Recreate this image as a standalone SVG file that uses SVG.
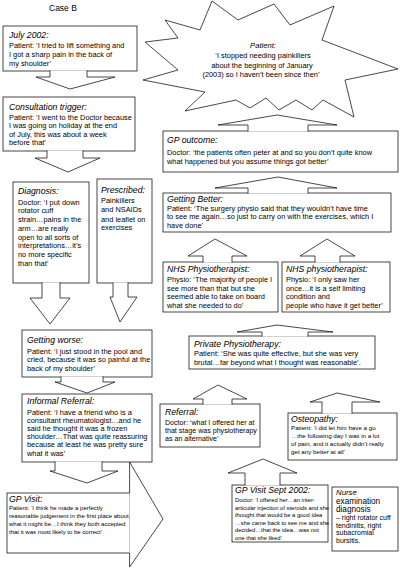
<svg xmlns="http://www.w3.org/2000/svg" width="400" height="568" viewBox="0 0 400 568">
<style>
.box{fill:#fff;stroke:#1a1a1a;stroke-width:0.8}
.arr{fill:#fff;stroke:#1a1a1a;stroke-width:0.8;stroke-linejoin:miter}
text{font-family:"Liberation Sans",Arial,sans-serif;fill:#000}
.t{font-style:italic;font-size:8.7px}
.b{font-size:7.4px}
.c{text-anchor:middle}
</style>
<rect width="400" height="568" fill="#fff"/>
<text x="49" y="11" font-size="8.5">Case B</text>

<g id="n-july">
<rect class="box" x="3" y="26" width="134" height="45"/>
<text class="t" x="9" y="38">July 2002:</text>
<text class="b" x="9" y="47.5">Patient: ‘I tried to lift something and</text>
<text class="b" x="9" y="57">I got a sharp pain in the back of</text>
<text class="b" x="9" y="66">my shoulder’</text>
</g>

<g id="n-consult">
<rect class="box" x="3" y="97" width="132" height="54"/>
<text class="t" x="9" y="110">Consultation trigger:</text>
<text class="b" x="9" y="120">Patient: ‘I went to the Doctor because</text>
<text class="b" x="9" y="128.3">I was going on holiday at the end</text>
<text class="b" x="9" y="136.6">of July, this was about a week</text>
<text class="b" x="9" y="145">before that’</text>
</g>

<g id="n-diagnosis">
<rect class="box" x="13" y="182" width="76" height="101"/>
<text class="t" x="18" y="194">Diagnosis:</text>
<text class="b" x="18" y="204.7">Doctor: ‘I put down</text>
<text class="b" x="18" y="213.4">rotator cuff</text>
<text class="b" x="18" y="222.1">strain…pains in the</text>
<text class="b" x="18" y="230.8">arm…are really</text>
<text class="b" x="18" y="239.5">open to all sorts of</text>
<text class="b" x="18" y="248.2">interpretations…it’s</text>
<text class="b" x="18" y="256.9">no more specific</text>
<text class="b" x="18" y="265.6">than that’</text>
</g>

<g id="n-prescribed">
<rect class="box" x="97" y="179" width="55" height="104"/>
<text class="t" x="101" y="192.5">Prescribed:</text>
<text class="b" x="101" y="202.7">Painkillers</text>
<text class="b" x="101" y="212.2">and NSAIDs</text>
<text class="b" x="101" y="221.7">and leaflet on</text>
<text class="b" x="101" y="230">exercises</text>
</g>

<g id="n-worse">
<rect class="box" x="22" y="330" width="130" height="47"/>
<text class="t" x="27" y="343">Getting worse:</text>
<text class="b" x="27" y="353.5">Patient: ‘I just stood in the pool and</text>
<text class="b" x="27" y="362">cried, because it was so painful at the</text>
<text class="b" x="27" y="370.5">back of my shoulder’</text>
</g>

<g id="n-informal">
<rect class="box" x="22" y="394" width="130" height="68"/>
<text class="t" x="27" y="404">Informal Referral:</text>
<text class="b" x="27" y="414.5">Patient: ‘I have a friend who is a</text>
<text class="b" x="27" y="422.7">consultant rheumatologist…and he</text>
<text class="b" x="27" y="430.9">said he thought it was a frozen</text>
<text class="b" x="27" y="439.1">shoulder…That was quite reassuring</text>
<text class="b" x="27" y="447.3">because at least he was pretty sure</text>
<text class="b" x="27" y="455.5">what it was’</text>
</g>

<g id="n-gpvisit">
<rect class="box" x="7" y="493" width="123" height="60"/>
<text class="t" x="9" y="501.5" font-size="9">GP Visit:</text>
<text x="9" y="509.5" font-size="6">Patient: ‘I think he made a perfectly</text>
<text x="9" y="517.5" font-size="6">reasonable judgement in the first place about</text>
<text x="9" y="525.5" font-size="6">what it might be…I think they both accepted</text>
<text x="9" y="533.5" font-size="6">that it was most likely to be correct’</text>
</g>

<g id="n-stopped">
<polygon class="box" points="165,20 200,30 212,1 238,20 274,4 290,25 334,6 322,40 398,69 345,80 354,117 323,100 312,110 296,100 279,110 266,98 250,108 236,100 185,111 205,92 143,80 178,70 145,42 178,38"/>
<text class="c" x="263" y="47.5" font-size="7.6" font-style="italic">Patient:</text>
<text class="b c" x="263" y="58">‘I stopped needing painkillers</text>
<text class="b c" x="262" y="67.5">about the beginning of January</text>
<text class="b c" x="261" y="77">(2003) so I haven’t been since then’</text>
</g>

<g id="n-gpoutcome">
<rect class="box" x="163" y="131" width="235" height="41"/>
<text class="t" x="167" y="142.5">GP outcome:</text>
<text class="b" x="167" y="154.5">Doctor: ‘the patients often peter at and so you don’t quite know</text>
<text class="b" x="167" y="163.5">what happened but you assume things got better’</text>
</g>

<g id="n-better">
<rect class="box" x="163" y="193" width="228" height="39"/>
<text class="t" x="167" y="201.5">Getting Better:</text>
<text class="b" x="167" y="210.5">Patient: ‘The surgery physio said that they wouldn’t have time</text>
<text class="b" x="167" y="219">to see me again…so just to carry on with the exercises, which I</text>
<text class="b" x="167" y="227.5">have done’</text>
</g>

<g id="n-nhs1">
<rect class="box" x="163" y="262" width="115" height="50"/>
<text class="t" x="167" y="272">NHS Physiotherapist:</text>
<text class="b" x="167" y="282">Physio: ‘The majority of people I</text>
<text class="b" x="167" y="290.5">see more than that but she</text>
<text class="b" x="167" y="299">seemed able to take on board</text>
<text class="b" x="167" y="307.5">what she needed to do’</text>
</g>

<g id="n-nhs2">
<rect class="box" x="282" y="262" width="108" height="50"/>
<text class="t" x="286" y="272">NHS physiotherapist:</text>
<text class="b" x="286" y="282">Physio: ‘I only saw her</text>
<text class="b" x="286" y="290.5">once…it is a self limiting</text>
<text class="b" x="286" y="299">condition and</text>
<text class="b" x="286" y="307.5">people who have it get better’</text>
</g>

<g id="n-private">
<rect class="box" x="189" y="336" width="186" height="33"/>
<text class="t" x="194" y="346.5" font-size="8.5">Private Physiotherapy:</text>
<text class="b" x="194" y="356">Patient: ‘She was quite effective, but she was very</text>
<text class="b" x="194" y="365">brutal…far beyond what I thought was reasonable’.</text>
</g>

<g id="n-referral">
<rect class="box" x="160" y="404" width="100" height="43"/>
<text class="t" x="165" y="414.5">Referral:</text>
<text x="165" y="424.5" font-size="7.1">Doctor: ‘what I offered her at</text>
<text x="165" y="432.5" font-size="7.1">that stage was physiotherapy</text>
<text x="165" y="440.5" font-size="7.1">as an alternative’</text>
</g>

<g id="n-osteo">
<rect class="box" x="288" y="413" width="109" height="47"/>
<text class="t" x="291" y="421.5" font-size="7.8">Osteopathy:</text>
<text x="291" y="429.5" font-size="6.2">Patient: ‘I did let him have a go</text>
<text x="291" y="437.5" font-size="6.2">…the following day I was in a lot</text>
<text x="291" y="445.5" font-size="6.2">of pain, and it actually didn’t really</text>
<text x="291" y="453.5" font-size="6.2">get any better at all’</text>
</g>

<g id="n-gpsept">
<rect class="box" x="232" y="485" width="96" height="57"/>
<text class="t" x="235" y="492.5" font-size="8">GP Visit Sept 2002:</text>
<text x="235" y="502" font-size="5.8">Doctor: ‘I offered her…an inter-</text>
<text x="235" y="509.5" font-size="5.8">articular injection of steroids and she</text>
<text x="235" y="517" font-size="5.8">thought that would be a good idea</text>
<text x="235" y="524.5" font-size="5.8">…she came back to see me and she</text>
<text x="235" y="532" font-size="5.8">decided…that the idea…was not</text>
<text x="235" y="539.5" font-size="5.8">one that she liked’</text>
</g>

<g id="n-nurse">
<rect class="box" x="332" y="487" width="66" height="64"/>
<text x="336" y="495" font-size="7.8" font-style="italic">Nurse</text>
<text x="336" y="503.5" font-size="8.2">examination</text>
<text x="336" y="511.5" font-size="8.2">diagnosis</text>
<text x="336" y="520" font-size="7">– right rotator cuff</text>
<text x="336" y="527.5" font-size="7">tendinitis, right</text>
<text x="336" y="535" font-size="7">subacromial</text>
<text x="336" y="542.5" font-size="7">bursitis.</text>
</g>

<g id="connectors">
<path class="arr" d="M50,70.4 V77 H36 L70,89 L115,77 H87 V70.4"/>
<path class="arr" d="M47,150.4 V158 H35 L68,172 L100,158 H83 V150.4"/>
<path class="arr" d="M42,282.4 V298 H30 L50,324 L70,298 H60 V282.4"/>
<path class="arr" d="M113,282.4 V297 H110 L120,322 L137,297 H128 V282.4"/>
<path class="arr" d="M61,376.4 V382 H55 L87,393 L115,382 H103 V376.4"/>
<path class="arr" d="M55,461.4 V471 H50 L87,483 L118,471 H102 V461.4"/>
<path class="arr" d="M129.6,493 V462 L163,519 L129.6,567 V553"/>
<path class="arr" d="M248,131.6 V125 H218 L277,115 L337,125 H308 V131.6"/>
<path class="arr" d="M248,193.6 V188 H215 L278,177 L337,188 H308 V193.6"/>
<path class="arr" d="M203,262.6 V256 H188 L215,239 L247,256 H232 V262.6"/>
<path class="arr" d="M315,262.6 V256 H300 L327,239 L355,256 H340 V262.6"/>
<path class="arr" d="M262,336.6 V332 H237 L277,325 L333,332 H308 V336.6"/>
<path class="arr" d="M203,404.6 V399 H193 L218,385 L247,399 H232 V404.6"/>
<path class="arr" d="M322,413.6 V402 H310 L337,393 L380,402 H352 V413.6"/>
<path class="arr" d="M245,485.6 V473 H228 L263,459 L297,473 H280 V485.6"/>
</g>
</svg>
